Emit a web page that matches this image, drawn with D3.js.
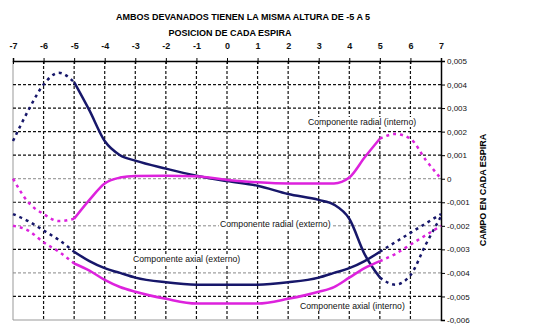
<!DOCTYPE html>
<html><head><meta charset="utf-8">
<script src="https://cdn.jsdelivr.net/npm/d3@7/dist/d3.min.js"></script>
<style>body{margin:0;background:#fff}svg{display:block;font-family:"Liberation Sans",Arial,sans-serif}</style>
</head><body><svg id="c" width="539" height="335"></svg>
<script>
const title = "AMBOS DEVANADOS TIENEN LA MISMA ALTURA DE -5 A 5";
const xTitle = "POSICION DE CADA ESPIRA";
const yTitle = "CAMPO EN CADA ESPIRA";
const xTicks = [-7,-6,-5,-4,-3,-2,-1,0,1,2,3,4,5,6,7];
const yTicks = [0.005,0.004,0.003,0.002,0.001,0,-0.001,-0.002,-0.003,-0.004,-0.005,-0.006];
const xs = [-7,-6.5,-6,-5.5,-5,-4.5,-4,-3.5,-3,-2,-1,0,1,2,3,3.5,4,4.5,5,5.5,6,6.5,7];
const radialExterno = [0.0016,0.0029,0.0040,0.0045,0.0041,0.0029,0.0016,0.0010,0.00077,0.00043,0.00013,-0.0001,-0.0003,-0.00065,-0.0009,-0.0011,-0.0017,-0.0032,-0.0042,-0.0045,-0.0041,-0.0028,-0.0016];
const radialInterno = [0.0,-0.001,-0.0015,-0.0018,-0.0017,-0.0009,-0.0002,0.00005,0.00012,0.00013,0.0001,-0.00005,-0.00015,-0.0002,-0.0002,-0.0002,0.00005,0.0009,0.0017,0.0019,0.0017,0.0008,0.0];
const axialExterno = [-0.0015,-0.0018,-0.0022,-0.0026,-0.0031,-0.0035,-0.0038,-0.0040,-0.0042,-0.0044,-0.0045,-0.0045,-0.0045,-0.0044,-0.0042,-0.0040,-0.0038,-0.0035,-0.0031,-0.0027,-0.0023,-0.0019,-0.0015];
const axialInterno = [-0.0020,-0.0022,-0.0027,-0.0031,-0.0036,-0.0039,-0.0043,-0.0046,-0.0048,-0.0051,-0.0053,-0.0053,-0.0053,-0.0051,-0.0048,-0.0046,-0.0042,-0.0038,-0.0035,-0.0032,-0.0028,-0.0024,-0.0020];
const seriesNames = ["Componente radial (externo)","Componente radial (interno)","Componente axial (externo)","Componente axial (interno)"];
const navy = "#17176a", magenta = "#dd22dd";

const svg = d3.select("#c");
const x = d3.scaleLinear().domain([-7,7]).range([13,441]);
const y = d3.scaleLinear().domain([-0.006,0.005]).range([320,61]);
const fmt = v => v === 0 ? "0" : d3.format(".3f")(v).replace(".", ",").replace("−","-");

// frame (left/bottom gray)
svg.append("line").attr("x1",x(-7)).attr("x2",x(-7)).attr("y1",y(0.005)).attr("y2",y(-0.006)).attr("stroke","#999").attr("stroke-width",1);
svg.append("line").attr("x1",x(-7)).attr("x2",x(7)).attr("y1",y(-0.006)).attr("y2",y(-0.006)).attr("stroke","#999").attr("stroke-width",1);

// grid
const g = svg.append("g");
xTicks.filter(d=>d>-7 && d<7).forEach(d=>{
  g.append("line").attr("x1",x(d)).attr("x2",x(d)).attr("y1",y(0.005)).attr("y2",y(-0.006))
   .attr("stroke","#111").attr("stroke-width",1.2).attr("stroke-dasharray","3,2");
});
yTicks.filter(d=>d<0.005 && d>-0.006).forEach(d=>{
  const light = Math.round(d*1000)%2===0 && d<=0;
  g.append("line").attr("x1",x(-7)).attr("x2",x(7)).attr("y1",y(d)).attr("y2",y(d))
   .attr("stroke",light?"#888":"#111").attr("stroke-width",light?1:1.2).attr("stroke-dasharray","3,2");
});

// top axis
const topAxis = svg.append("g").attr("transform",`translate(0,${y(0.005)})`)
  .call(d3.axisTop(x).tickValues(xTicks).tickSize(3).tickFormat(d=>String(d)));
topAxis.select(".domain").attr("stroke","#000").attr("stroke-width",1.5);
topAxis.selectAll(".tick line").attr("stroke","#000").attr("y2",3).attr("y1",-3);
topAxis.selectAll(".tick text").attr("font-size",9).attr("font-weight","bold").attr("y",-12).attr("fill","#111").attr("font-family","Liberation Sans, Arial");

// right axis
const rightAxis = svg.append("g").attr("transform",`translate(${x(7)},0)`)
  .call(d3.axisRight(y).tickValues(yTicks).tickSize(4).tickFormat(fmt));
rightAxis.select(".domain").attr("stroke","#000").attr("stroke-width",1.5);
rightAxis.selectAll(".tick line").attr("stroke","#000");
rightAxis.selectAll(".tick text").attr("font-size",8).attr("x",6).attr("fill","#111").attr("font-family","Liberation Sans, Arial");

// titles
svg.append("text").attr("x",243).attr("y",20).attr("text-anchor","middle").attr("font-size",9).attr("font-weight","bold").text(title);
svg.append("text").attr("x",230).attr("y",36).attr("text-anchor","middle").attr("font-size",9).attr("font-weight","bold").text(xTitle);
svg.append("text").attr("transform","translate(486,190) rotate(-90)").attr("text-anchor","middle").attr("font-size",9).attr("font-weight","bold").text(yTitle);

// series labels (white background boxes, beneath curves)
const labs = [
  {t: seriesNames[0], x: 220, y: 227},
  {t: seriesNames[1], x: 308, y: 125},
  {t: seriesNames[2], x: 133, y: 262},
  {t: seriesNames[3], x: 300, y: 309}
];
const lg = svg.append("g");
labs.forEach(l=>{
  const t = lg.append("text").attr("x",l.x).attr("y",l.y).attr("font-size",8.7).attr("fill","#111").text(l.t);
  const bb = t.node().getBBox();
  lg.insert("rect","text").attr("x",bb.x-1).attr("y",bb.y).attr("width",bb.width+2).attr("height",bb.height).attr("fill","#fff");
});

// curves
const line = d3.line().x(d=>x(d[0])).y(d=>y(d[1])).curve(d3.curveMonotoneX);
const series = [
  {vals: radialExterno, color: navy},
  {vals: radialInterno, color: magenta},
  {vals: axialExterno, color: navy},
  {vals: axialInterno, color: magenta}
];
const cg = svg.append("g");
series.forEach(s=>{
  const pts = xs.map((xv,i)=>[xv,s.vals[i]]);
  const leftP = pts.filter(p=>p[0]<=-5), mid = pts.filter(p=>p[0]>=-5 && p[0]<=5), rightP = pts.filter(p=>p[0]>=5);
  [leftP,rightP].forEach(seg=>{
    cg.append("path").attr("d",line(seg)).attr("fill","none").attr("stroke",s.color)
      .attr("stroke-width",2.5).attr("stroke-dasharray","3,4");
  });
  cg.append("path").attr("d",line(mid)).attr("fill","none").attr("stroke",s.color).attr("stroke-width",2.5);
});
</script></body></html>
